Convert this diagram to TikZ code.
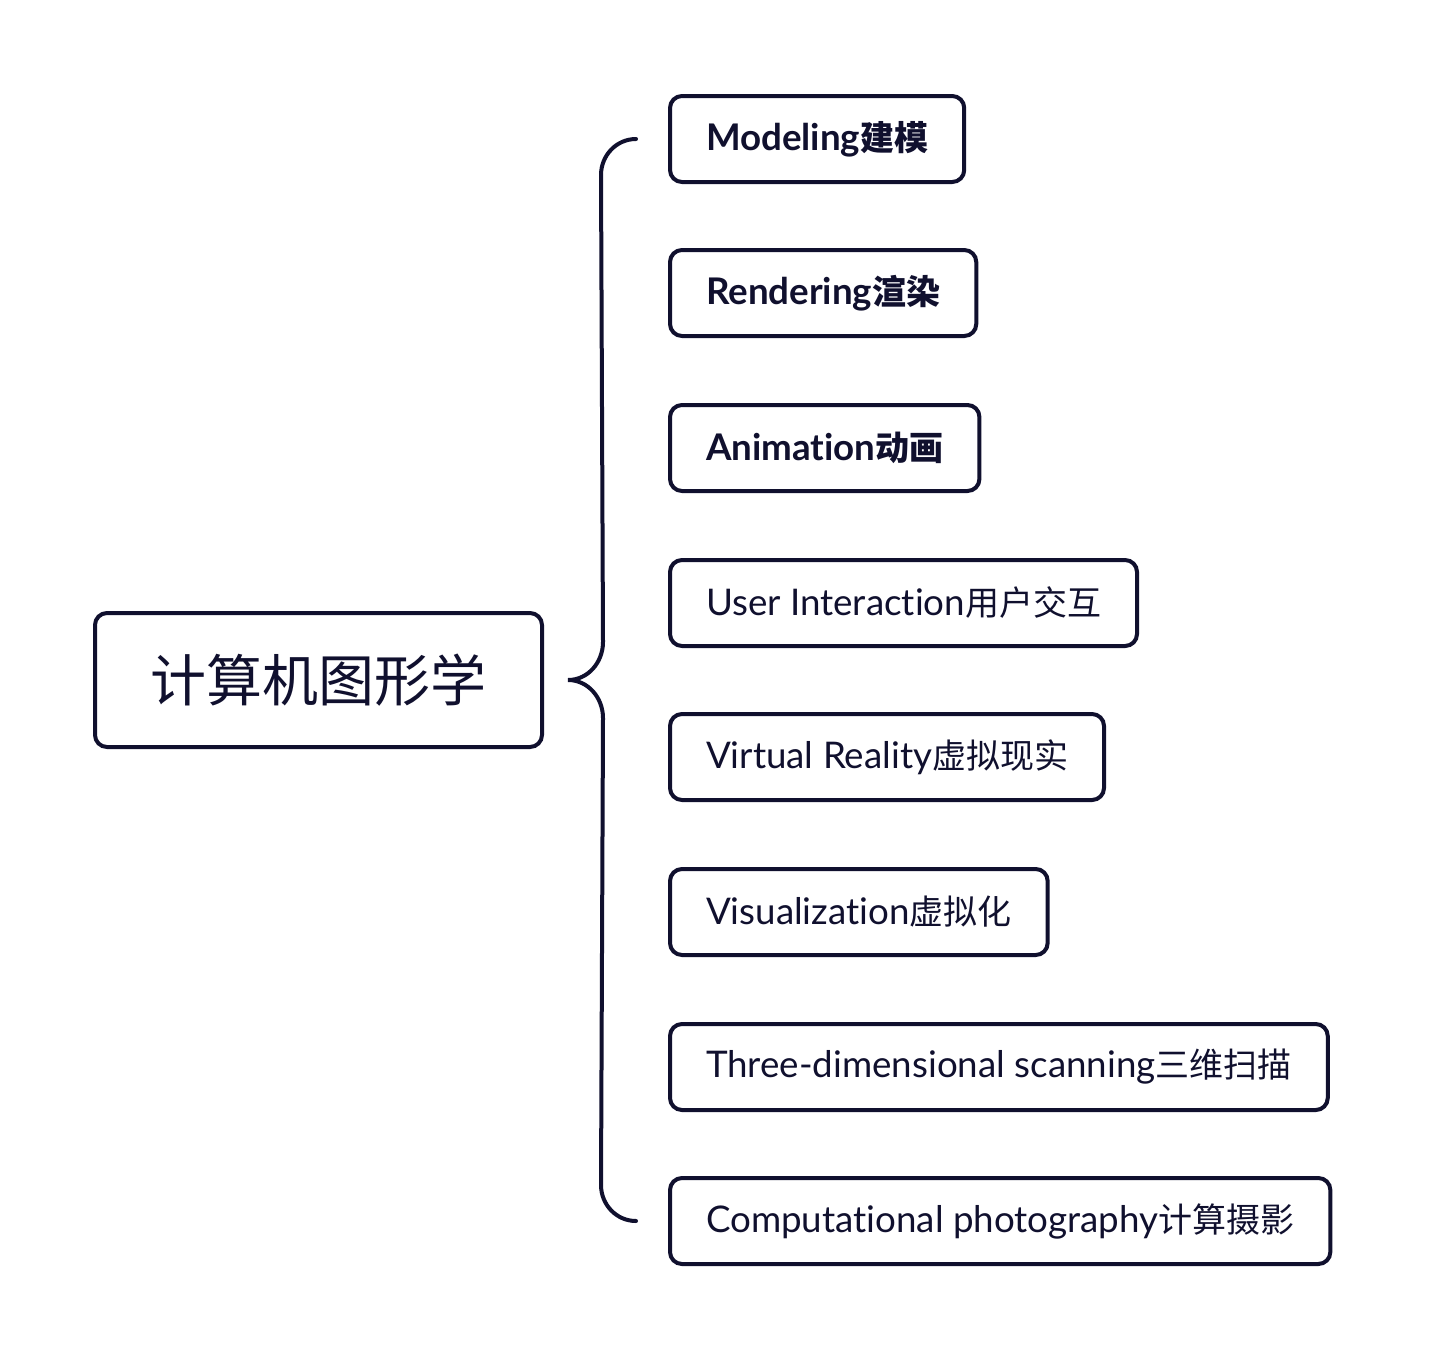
\documentclass[tikz,border=0pt]{standalone}
\usepackage{fontspec}
\setmainfont[Scale=1.08,Ligatures={NoCommon,NoRare}]{Lato}
\newfontfamily\cjk{Noto Sans CJK SC}
\usetikzlibrary{calc}
\definecolor{ink}{HTML}{10102E}
\begin{document}
\begin{tikzpicture}[x=0.5pt,y=-0.5pt,
  box/.style={draw=ink, line width=2pt, rounded corners=6pt, text=ink,
    minimum height=43pt, inner xsep=18pt, anchor=west,
    font=\fontsize{17}{20}\selectfont},
  boldbox/.style={box, font=\fontsize{17}{20}\selectfont\bfseries},
  rootbox/.style={draw=ink, line width=2pt, rounded corners=6pt, text=ink,
    minimum width=223.5pt, minimum height=67pt,
    font=\fontsize{28}{32}\selectfont},
  brace/.style={draw=ink, line width=2pt, line cap=round}]
\useasboundingbox (0,0) rectangle (1440,1360);
\node[rootbox] (root) at (318.5,680) {\cjk 计算机图形学};
\node[boldbox] (n1) at (668,139) {Modeling{\cjk 建模}};
\node[boldbox] (n2) at (668,293) {Rendering{\cjk 渲染}};
\node[boldbox] (n3) at (668,448) {Animation{\cjk 动画}};
\node[box] (n4) at (668,603) {User Interaction{\cjk 用户交互}};
\node[box] (n5) at (668,757) {Virtual Reality{\cjk 虚拟现实}};
\node[box] (n6) at (668,912) {Visualization{\cjk 虚拟化}};
\node[box] (n7) at (668,1067) {Three-dimensional scanning{\cjk 三维扫描}};
\node[box] (n8) at (668,1221) {Computational photography{\cjk 计算摄影}};
\coordinate (bt) at ($(n1.west)+(-32,0)$);
\coordinate (bb) at ($(n8.west)+(-32,0)$);
\coordinate (bm) at ($(root.east)+(24,0)$);
\draw[brace] (bt) to[out=180,in=90] ($(bt)+(-35,36)$)
  -- ($(bm)+(35,-38)$) to[out=-90,in=0] (bm)
  to[out=0,in=90] ($(bm)+(35,38)$)
  -- ($(bb)+(-35,-36)$) to[out=-90,in=180] (bb);
\end{tikzpicture}
\end{document}
